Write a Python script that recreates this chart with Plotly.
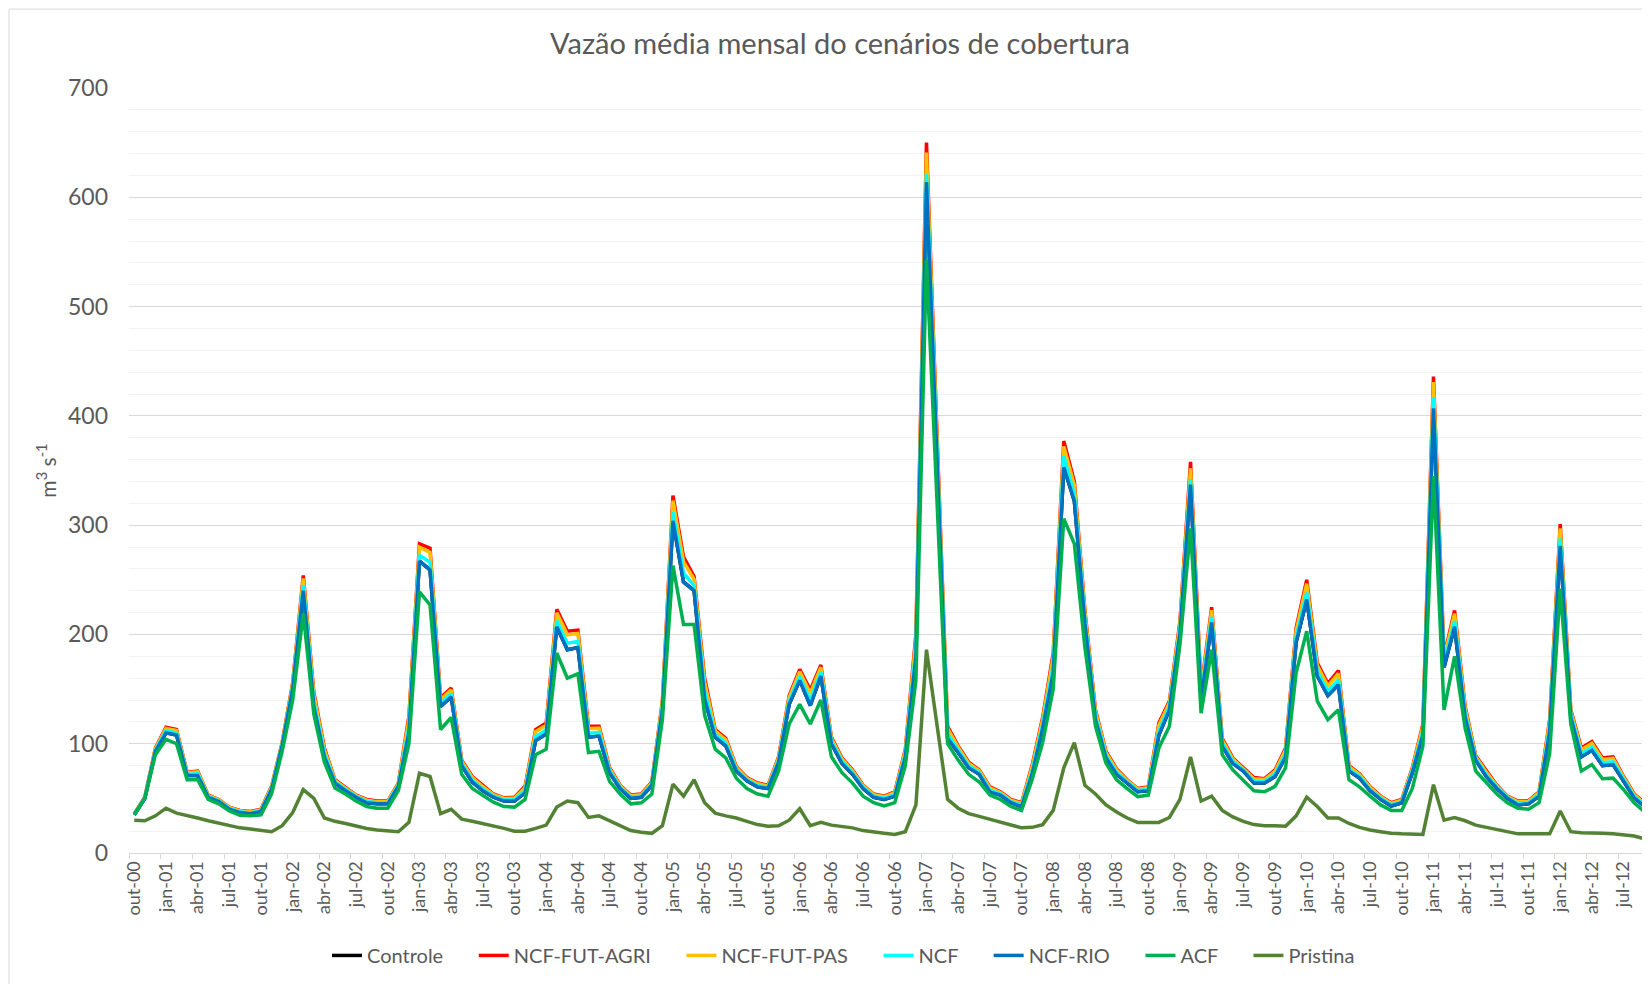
import plotly.graph_objects as go

# Categories: monthly, out-00 .. set-12
meses = ['jan', 'fev', 'mar', 'abr', 'mai', 'jun', 'jul', 'ago', 'set', 'out', 'nov', 'dez']
categorias = [f"{meses[(9 + k) % 12]}-{(2000 + (9 + k) // 12) % 100:02d}" for k in range(144)]

ncf_fut_agri = [
    36, 51, 96, 115, 113, 74, 75, 53, 49, 42, 39, 38,
    40, 61, 101, 156, 254, 147, 96, 67, 60, 53, 49, 47.5,
    47.5, 64, 125, 283, 279, 142, 151, 85, 70, 61.5, 54, 50.5,
    51, 61, 113, 119, 223, 203, 204, 116, 116, 78, 62, 53,
    54, 65, 139, 327, 271, 253, 160, 113, 105, 79, 69, 64,
    62, 88, 144, 168, 149, 172, 106, 87, 76, 62, 54, 52,
    56, 95, 200, 650, 383, 116, 98, 83, 76, 60.5, 56, 49,
    46, 80, 124, 183, 377, 340, 222, 131, 93, 77, 67, 59,
    60.5, 119, 139, 212, 358, 150, 225, 105, 87, 78, 69, 68,
    76, 96, 206, 250, 174, 155, 167, 80, 72.5, 60.5, 52, 46,
    49, 78, 118, 436, 180, 222, 134, 89, 75, 62, 52, 47.5,
    48, 56, 122, 301, 131, 96, 102, 87, 88, 70, 54, 46,
]

ncf_fut_pas = [
    35.8, 50.8, 95.4, 114, 112, 73.4, 74.2, 52.6, 48.6, 41.6, 38.6, 37.6,
    39.6, 60.4, 100.4, 154.8, 251.2, 144.4, 94.4, 66.4, 59.4, 52.6, 48.4, 47,
    47, 63.4, 122, 279.8, 275, 140.4, 149.4, 84, 69, 60.6, 53.4, 49.9,
    50.3, 59.8, 111, 117, 219.8, 199.6, 200.8, 114, 114.2, 77.1, 61.4, 52.4,
    53.4, 64.4, 137.4, 322.4, 266.4, 250.4, 156.2, 111.6, 103.6, 78.2, 68.4, 63.3,
    61.4, 87, 142.4, 166, 146.2, 170, 104.8, 86, 75.2, 61.4, 53.4, 51.4,
    55.2, 93.6, 196, 641, 378.4, 113.8, 96.8, 82, 75.2, 59.6, 55.4, 48.4,
    45.3, 78.4, 122, 179.4, 372, 336.4, 219.6, 129.2, 91.8, 76, 66.4, 58.4,
    59.8, 116.8, 137.4, 209.8, 352, 148, 222.2, 103.6, 86, 77.4, 68, 67.2,
    74.8, 94.4, 203.4, 246.4, 171.6, 152.8, 164.4, 79, 71.7, 59.8, 51.4, 45.4,
    48.4, 77.1, 116, 431, 178, 219, 132, 88.2, 74, 61.4, 51.6, 46.8,
    47.4, 55.2, 119.8, 297, 129.6, 94.4, 100.4, 85.6, 86.6, 69.2, 53.3, 45.3,
]

ncf = [
    35.4, 50.4, 94.1, 111.8, 109.8, 72.1, 72.4, 51.7, 47.7, 40.7, 37.7, 36.7,
    38.7, 59.1, 99.1, 152.1, 244.9, 138.6, 90.8, 65.1, 58.1, 51.7, 47.1, 45.9,
    45.9, 62.1, 115.3, 272.6, 266, 136.8, 145.8, 81.8, 66.8, 58.6, 52.1, 48.6,
    48.7, 57.1, 106.5, 112.5, 212.6, 192, 193.6, 109.5, 110.2, 75.1, 60.1, 51.1,
    52.1, 63.1, 133.8, 312, 256, 244.6, 147.7, 108.5, 100.5, 76.4, 67.1, 61.7,
    60.1, 84.8, 138.8, 161.5, 139.9, 165.5, 102.1, 83.8, 73.4, 60.1, 52.1, 50.1,
    53.4, 90.5, 187, 622, 368, 108.9, 94.1, 79.8, 73.4, 57.6, 54.1, 47.1,
    43.7, 74.8, 117.5, 171.3, 363, 328.3, 214.2, 125.2, 89.1, 73.8, 65.1, 57.1,
    58.2, 111.9, 133.8, 204.9, 342, 143.5, 215.9, 100.5, 83.8, 76.1, 65.8, 65.4,
    72.1, 90.8, 197.6, 238.3, 166.2, 147.9, 158.6, 76.8, 69.9, 58.2, 50.1, 44.1,
    47.1, 75.1, 111.5, 417, 173.5, 212.3, 127.5, 86.4, 71.8, 60.1, 50.7, 45.2,
    46.1, 53.4, 114.9, 288, 126.5, 90.8, 96.8, 82.5, 83.5, 67.4, 51.7, 43.7,
]

ncf_rio = [
    35, 50, 93, 110, 108, 71, 71, 51, 47, 40, 37, 36,
    38, 58, 98, 150, 240, 134, 88, 64, 57, 51, 46, 45,
    45, 61, 110, 267, 259, 134, 143, 80, 65, 57, 51, 47.5,
    47.5, 55, 103, 109, 207, 186, 188, 106, 107, 73.5, 59, 50,
    51, 62, 131, 304, 248, 240, 141, 106, 98, 75, 66, 60.5,
    59, 83, 136, 158, 135, 162, 100, 82, 72, 59, 51, 49,
    52, 88, 180, 614, 360, 105, 92, 78, 72, 56, 53, 46,
    42.5, 72, 114, 165, 353, 322, 210, 122, 87, 72, 64, 56,
    57, 108, 131, 201, 337, 140, 211, 98, 82, 75, 64, 64,
    70, 88, 193, 232, 162, 144, 154, 75, 68.5, 57, 49, 43,
    46, 73.5, 108, 407, 170, 207, 124, 85, 70, 59, 50, 44,
    45, 52, 111, 281, 124, 88, 94, 80, 81, 66, 50.5, 42.5,
]

# Controle is fully hidden beneath the other scenario curves in the reference
controle = [
    35, 50, 93, 110, 108, 71, 71, 51, 47, 40, 37, 36,
    38, 58, 98, 150, 240, 134, 88, 64, 57, 51, 46, 45,
    45, 61, 110, 267, 259, 134, 143, 80, 65, 57, 51, 47.5,
    47.5, 55, 103, 109, 207, 186, 188, 106, 107, 73.5, 59, 50,
    51, 62, 131, 304, 248, 240, 141, 106, 98, 75, 66, 60.5,
    59, 83, 136, 158, 135, 162, 100, 82, 72, 59, 51, 49,
    52, 88, 180, 614, 360, 105, 92, 78, 72, 56, 53, 46,
    42.5, 72, 114, 165, 353, 322, 210, 122, 87, 72, 64, 56,
    57, 108, 131, 201, 337, 140, 211, 98, 82, 75, 64, 64,
    70, 88, 193, 232, 162, 144, 154, 75, 68.5, 57, 49, 43,
    46, 73.5, 108, 407, 170, 207, 124, 85, 70, 59, 50, 44,
    45, 52, 111, 281, 124, 88, 94, 80, 81, 66, 50.5, 42.5,
]

acf = [
    35, 50, 90, 104, 100, 67, 67, 49, 45, 38.5, 34.5, 34,
    35, 54, 93, 140, 219, 127, 83, 59.5, 54, 47.5, 42.5, 41,
    41, 57, 100, 239, 227, 113, 124, 72, 59, 52.5, 46.5, 42.5,
    42, 49, 90, 95, 183, 160, 164, 92, 93, 65.5, 54, 45,
    46, 54, 122, 263, 209, 209, 126, 95, 87, 68.5, 59, 54,
    52, 75, 118, 136, 118, 140, 88, 73.5, 64, 52, 46, 43,
    46, 80, 158, 543, 321, 100, 85, 72, 65, 53, 49, 42.5,
    39, 67, 101, 150, 306, 283, 188, 116, 82, 67, 59, 51.5,
    53, 96, 116, 191, 297, 128, 186, 90, 76, 67, 57, 56,
    61, 78, 165, 203, 139, 122, 131, 67, 60.5, 52, 44, 39,
    39, 59, 98, 345, 131, 180, 114, 75, 64, 54, 46, 41,
    40, 46, 91, 242, 118, 75, 81, 68, 68.5, 58, 46, 37.5,
]

pristina = [
    30, 29.5, 34, 41, 36.5, 34.5, 32, 29.5, 27.5, 25, 23, 22,
    20.5, 19.5, 25, 37, 58, 50, 32, 29, 27, 24.5, 22.5, 21,
    20, 19.5, 28, 73, 70, 36, 40, 31, 29, 27, 24.5, 22.5,
    20, 20, 22.5, 25.5, 42, 47.5, 46, 32.5, 34, 29.5, 24.5, 20.5,
    19, 18, 25, 63, 52, 67, 46, 36.5, 34, 32, 29, 26,
    24.5, 25, 30, 40.5, 25, 28, 25.5, 24.5, 23, 20.5, 19, 18,
    17, 19.5, 44, 186, 117, 49, 41, 36, 33.5, 31, 28, 25.5,
    23, 23.5, 26, 39, 78, 101, 62, 54, 44, 37.5, 32, 28,
    28, 28, 32.5, 49, 88, 47.5, 52, 39, 33, 29, 26, 25,
    25, 24.5, 34, 51, 42.5, 32, 32, 27, 23.5, 21, 19.5, 18,
    17.5, 17, 17, 62.5, 30, 32.5, 29.5, 25.5, 23.5, 21, 19, 17.5,
    17.5, 17.5, 17.5, 38.5, 19.5, 18.5, 18.5, 18, 17.5, 16.5, 15.5, 13,
]

series = [
    ("Controle", controle, "#000000"),
    ("NCF-FUT-AGRI", ncf_fut_agri, "#FF0000"),
    ("NCF-FUT-PAS", ncf_fut_pas, "#FFC000"),
    ("NCF", ncf, "#00FFFF"),
    ("NCF-RIO", ncf_rio, "#0070C0"),
    ("ACF", acf, "#00B050"),
    ("Pristina", pristina, "#548235"),
]

for nome, valores, _ in series:
    assert len(valores) == len(categorias), (nome, len(valores))

FONT = "Lato, Carlito, Calibri, sans-serif"
TXT = "#595959"
PAD = "\u00a0" * 5  # extra spacing after each legend entry (Excel-like spacing)

fig = go.Figure()
for nome, valores, cor in series:
    fig.add_trace(go.Scatter(
        x=categorias, y=valores, name=nome + PAD, mode="lines",
        line=dict(color=cor, width=3.5),
    ))

# The page body has an 8px margin; figure coordinates = page coordinates - 8
OFF = 8
W, H = 1650 - OFF, 984 - OFF
L, R, T = 129 - OFF, 0, 88 - OFF
B = H - (853.5 - OFF)
pw = W - L - R
ph = H - T - B

fig.update_layout(
    width=W, height=H,
    margin=dict(l=L, r=R, t=T, b=B, pad=0),
    paper_bgcolor="white", plot_bgcolor="white",
    font=dict(family=FONT, color=TXT, size=20),
    title=dict(
        text="Vazão média mensal do cenários de cobertura",
        x=(840 - OFF) / W, xanchor="center", y=1 - (44 - OFF) / H, yanchor="middle",
        font=dict(family=FONT, size=29, color=TXT),
    ),
    showlegend=True,
    legend=dict(
        orientation="h", x=(327 - OFF - L) / pw, xanchor="left",
        y=-((956 - OFF) - (H - B)) / ph, yanchor="middle",
        font=dict(family=FONT, size=20, color=TXT),
        traceorder="normal", bgcolor="rgba(0,0,0,0)",
    ),
)

fig.update_xaxes(
    type="category", range=[-0.5, 143.5], tickson="boundaries", dtick=3,
    tickangle=-90, ticks="outside", ticklen=5, tickcolor="#D9D9D9",
    showline=True, linecolor="#D9D9D9", linewidth=1, showgrid=False,
    tickfont=dict(family=FONT, size=18, color=TXT),
)

fig.update_yaxes(
    range=[0, 700], dtick=100, showgrid=True, gridcolor="#D9D9D9", gridwidth=1,
    zeroline=False, showline=False, ticks="", ticklabelstandoff=20,
    tickfont=dict(family=FONT, size=23, color=TXT),
    minor=dict(dtick=20, showgrid=True, gridcolor="#F2F2F2", gridwidth=1),
    title=dict(text="m<sup>3</sup> s<sup>-1</sup>", standoff=5,
               font=dict(family=FONT, size=21, color=TXT)),
)

# chart-area border (Excel style)
fig.add_shape(
    type="rect", xref="paper", yref="paper",
    x0=(9 - OFF - L) / pw, x1=1.05, y0=-0.3, y1=(H - B - (9 - OFF)) / ph,
    line=dict(color="#D9D9D9", width=1), fillcolor="rgba(0,0,0,0)", layer="below",
)

fig.write_html("out.html")
